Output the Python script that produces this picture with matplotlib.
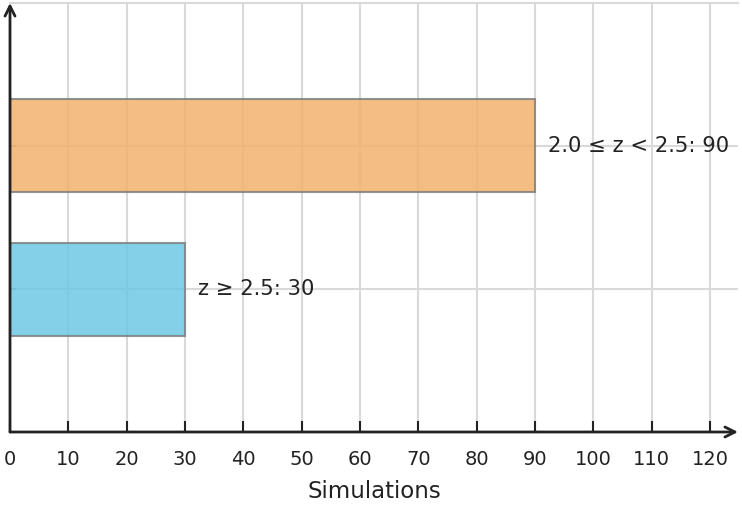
import matplotlib
matplotlib.use('Agg')
import matplotlib.pyplot as plt

######################## - DATA - #############################
categories = ['z ≥ 2.5', '2.0 ≤ z < 2.5']
simulations = [30, 90]
bar_colors = ['#6EC8E5', '#F1B26E']
x_ticks = list(range(0, 121, 10))

######################## - PLOT - #############################
def main():
    fig = plt.figure(figsize=(7.42, 5.08), dpi=100)
    ax = fig.add_axes([10 / 742, 76 / 508, 728 / 742, 429 / 508])

    ypos = list(range(len(categories)))
    ax.barh(ypos, simulations, height=0.64, color=bar_colors, alpha=0.85,
            edgecolor='#808080', linewidth=1.5, zorder=3)

    for y, v, c in zip(ypos, simulations, categories):
        ax.text(v + 2.2, y, f'{c}: {v}', va='center', ha='left',
                fontsize=15.2, color='#222222', zorder=5)

    ax.set_xlim(0, 124.8)
    ax.set_ylim(-0.99, 1.99)
    ax.set_xticks(x_ticks)
    ax.set_yticks(ypos)
    ax.set_yticklabels([])
    ax.tick_params(axis='x', direction='in', length=8, width=1.5,
                   colors='#222222', labelsize=14, pad=13)
    ax.tick_params(axis='y', direction='in', length=4, width=1.5,
                   colors='#999999')
    ax.grid(True, color='#d9d9d9', linewidth=1.5, zorder=1)
    ax.set_axisbelow(True)

    for s in ['left', 'bottom', 'right']:
        ax.spines[s].set_visible(False)
    ax.spines['top'].set_color('#d9d9d9')
    ax.spines['top'].set_linewidth(1.5)

    # axis lines with arrows
    ax.annotate('', xy=(1.0, 0), xytext=(0, 0), xycoords='axes fraction',
                arrowprops=dict(arrowstyle='->', color='#222222', lw=2,
                                mutation_scale=18, shrinkA=0, shrinkB=0),
                zorder=6, annotation_clip=False)
    ax.annotate('', xy=(0, 1.0), xytext=(0, 0), xycoords='axes fraction',
                arrowprops=dict(arrowstyle='->', color='#222222', lw=2,
                                mutation_scale=18, shrinkA=0, shrinkB=0),
                zorder=6, annotation_clip=False)

    ax.set_xlabel('Simulations', fontsize=16.5, color='#222222', labelpad=8)

    fig.savefig('out.png', dpi=100)


if __name__ == "__main__":
    main()
